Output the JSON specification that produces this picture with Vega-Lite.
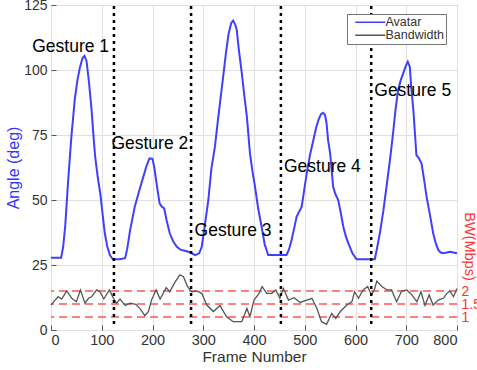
{
  "$schema": "https://vega.github.io/schema/vega-lite/v6.json",
  "width": 406,
  "height": 325,
  "autosize": {"type": "none"},
  "padding": {"left": 51, "top": 5, "right": 20, "bottom": 40},
  "config": {
    "font": "Liberation Sans",
    "view": {"stroke": "#555555", "strokeWidth": 1},
    "axis": {"domain": false, "gridColor": "#e0e0e0", "labelColor": "#333333", "titleColor": "#333333", "labelFontSize": 14, "titleFontWeight": "normal", "tickColor": "#555555"},
    "legend": {"orient": "none", "legendX": 296, "legendY": 9, "strokeColor": "#777777", "fillColor": "white", "padding": 2, "labelFontSize": 12.5, "symbolType": "M-5,0H5", "symbolSize": 36, "symbolStrokeWidth": 1.5, "symbolOffset": 15, "labelOffset": 9, "rowPadding": -1, "labelColor": "#333333"}
  },
  "datasets": {
    "avatar": [
      {"frame":0,"angle":27.8},{"frame":20,"angle":27.8},{"frame":24,"angle":32},{"frame":28,"angle":40},{"frame":34,"angle":58},{"frame":40,"angle":74},{"frame":47,"angle":89},{"frame":52,"angle":96},{"frame":57,"angle":101},{"frame":62,"angle":104.5},{"frame":66,"angle":105.4},{"frame":70,"angle":103.5},{"frame":75,"angle":95},{"frame":80,"angle":84.6},{"frame":84,"angle":74},{"frame":87,"angle":66.7},{"frame":92,"angle":59},{"frame":97,"angle":52.6},{"frame":102,"angle":44},{"frame":106,"angle":37.2},{"frame":111,"angle":32},{"frame":116,"angle":28.8},{"frame":122,"angle":27.2},{"frame":135,"angle":27.2},{"frame":146,"angle":27.6},{"frame":150,"angle":31},{"frame":156,"angle":38.5},{"frame":165,"angle":47.4},{"frame":173,"angle":53},{"frame":182,"angle":59},{"frame":188,"angle":63},{"frame":194,"angle":66},{"frame":200,"angle":65.8},{"frame":204,"angle":62},{"frame":208,"angle":56.4},{"frame":214,"angle":48.7},{"frame":218,"angle":47.5},{"frame":223,"angle":46.8},{"frame":228,"angle":42},{"frame":234,"angle":37.2},{"frame":241,"angle":34},{"frame":248,"angle":32},{"frame":256,"angle":30.8},{"frame":264,"angle":30.5},{"frame":274,"angle":29.9},{"frame":284,"angle":28.8},{"frame":292,"angle":29.5},{"frame":297,"angle":32},{"frame":303,"angle":40},{"frame":310,"angle":50},{"frame":316,"angle":62},{"frame":323,"angle":70.5},{"frame":329,"angle":80.8},{"frame":334,"angle":89},{"frame":340,"angle":98.7},{"frame":345,"angle":107},{"frame":350,"angle":114},{"frame":355,"angle":118},{"frame":359,"angle":119},{"frame":363,"angle":117.5},{"frame":366,"angle":115.4},{"frame":370,"angle":108},{"frame":376,"angle":98.7},{"frame":381,"angle":90},{"frame":386,"angle":82},{"frame":392,"angle":68},{"frame":397,"angle":61},{"frame":402,"angle":55.1},{"frame":408,"angle":47},{"frame":415,"angle":39.7},{"frame":421,"angle":33},{"frame":428,"angle":28.8},{"frame":441,"angle":28.8},{"frame":452,"angle":28.8},{"frame":464,"angle":28.8},{"frame":469,"angle":31},{"frame":474,"angle":34.6},{"frame":479,"angle":39},{"frame":484,"angle":43.6},{"frame":494,"angle":47.4},{"frame":499,"angle":54},{"frame":504,"angle":60.3},{"frame":510,"angle":67},{"frame":517,"angle":73.1},{"frame":522,"angle":77.5},{"frame":527,"angle":80.8},{"frame":532,"angle":83},{"frame":536,"angle":83.5},{"frame":540,"angle":82.7},{"frame":543,"angle":79.5},{"frame":546,"angle":73},{"frame":550,"angle":68},{"frame":556,"angle":55},{"frame":561,"angle":52},{"frame":566,"angle":50},{"frame":571,"angle":45},{"frame":576,"angle":39.7},{"frame":581,"angle":36},{"frame":586,"angle":33.3},{"frame":594,"angle":29.5},{"frame":602,"angle":27.2},{"frame":618,"angle":27.2},{"frame":630,"angle":27.2},{"frame":638,"angle":27.2},{"frame":643,"angle":32},{"frame":648,"angle":37.2},{"frame":655,"angle":46},{"frame":661,"angle":55},{"frame":668,"angle":65.5},{"frame":674,"angle":75.6},{"frame":679,"angle":85},{"frame":684,"angle":92.3},{"frame":689,"angle":96},{"frame":694,"angle":98.7},{"frame":699,"angle":101.5},{"frame":703,"angle":103.2},{"frame":707,"angle":101.3},{"frame":710,"angle":93},{"frame":714,"angle":84.6},{"frame":717,"angle":76},{"frame":720,"angle":67.3},{"frame":725,"angle":66},{"frame":730,"angle":64.1},{"frame":735,"angle":58},{"frame":740,"angle":51.3},{"frame":747,"angle":44},{"frame":753,"angle":37.2},{"frame":758,"angle":33.5},{"frame":763,"angle":30.8},{"frame":768,"angle":29.8},{"frame":773,"angle":29.5},{"frame":780,"angle":29.8},{"frame":786,"angle":30.1},{"frame":793,"angle":29.8},{"frame":800,"angle":29.5}
    ],
    "bw": [
      {"frame":0,"mbps":1.46},{"frame":8,"mbps":1.65},{"frame":14,"mbps":1.78},{"frame":21,"mbps":1.69},{"frame":31,"mbps":2.0},{"frame":41,"mbps":1.72},{"frame":50,"mbps":1.59},{"frame":58,"mbps":2.04},{"frame":67,"mbps":1.53},{"frame":74,"mbps":1.72},{"frame":80,"mbps":1.78},{"frame":90,"mbps":2.04},{"frame":97,"mbps":1.95},{"frame":104,"mbps":1.69},{"frame":115,"mbps":2.04},{"frame":123,"mbps":1.72},{"frame":129,"mbps":1.53},{"frame":136,"mbps":1.69},{"frame":146,"mbps":1.44},{"frame":156,"mbps":1.53},{"frame":167,"mbps":1.49},{"frame":175,"mbps":1.33},{"frame":185,"mbps":1.05},{"frame":192,"mbps":1.21},{"frame":198,"mbps":1.65},{"frame":207,"mbps":2.04},{"frame":215,"mbps":1.69},{"frame":227,"mbps":2.13},{"frame":234,"mbps":1.97},{"frame":244,"mbps":2.33},{"frame":254,"mbps":2.62},{"frame":261,"mbps":2.55},{"frame":269,"mbps":2.17},{"frame":277,"mbps":1.97},{"frame":287,"mbps":2.0},{"frame":297,"mbps":1.91},{"frame":307,"mbps":1.46},{"frame":320,"mbps":1.21},{"frame":333,"mbps":1.44},{"frame":346,"mbps":1.01},{"frame":359,"mbps":0.82},{"frame":376,"mbps":0.82},{"frame":386,"mbps":1.33},{"frame":392,"mbps":1.01},{"frame":400,"mbps":1.65},{"frame":410,"mbps":1.91},{"frame":416,"mbps":2.17},{"frame":425,"mbps":1.91},{"frame":435,"mbps":1.91},{"frame":443,"mbps":2.04},{"frame":451,"mbps":1.72},{"frame":458,"mbps":2.1},{"frame":468,"mbps":1.65},{"frame":479,"mbps":1.74},{"frame":491,"mbps":1.56},{"frame":504,"mbps":1.65},{"frame":514,"mbps":1.72},{"frame":524,"mbps":1.33},{"frame":533,"mbps":0.82},{"frame":543,"mbps":0.72},{"frame":553,"mbps":1.14},{"frame":561,"mbps":0.95},{"frame":570,"mbps":1.21},{"frame":583,"mbps":1.46},{"frame":593,"mbps":1.59},{"frame":598,"mbps":1.97},{"frame":606,"mbps":1.72},{"frame":615,"mbps":2.04},{"frame":624,"mbps":2.17},{"frame":631,"mbps":1.85},{"frame":637,"mbps":2.04},{"frame":642,"mbps":2.38},{"frame":652,"mbps":2.17},{"frame":662,"mbps":2.04},{"frame":671,"mbps":2.04},{"frame":681,"mbps":1.59},{"frame":691,"mbps":2.0},{"frame":701,"mbps":2.04},{"frame":711,"mbps":1.85},{"frame":721,"mbps":1.59},{"frame":729,"mbps":1.97},{"frame":737,"mbps":1.44},{"frame":745,"mbps":1.85},{"frame":753,"mbps":1.46},{"frame":763,"mbps":1.65},{"frame":773,"mbps":1.72},{"frame":780,"mbps":1.91},{"frame":786,"mbps":2.0},{"frame":793,"mbps":1.78},{"frame":800,"mbps":2.1}
    ],
    "thresholds": [{"mbps":1},{"mbps":1.5},{"mbps":2}],
    "dividers": [{"frame":124},{"frame":276},{"frame":453},{"frame":631}],
    "gestures": [
      {"label":"Gesture 1","frame":-37,"angle":109},
      {"label":"Gesture 2","frame":119,"angle":71.7},
      {"label":"Gesture 3","frame":283,"angle":38},
      {"label":"Gesture 4","frame":459,"angle":62.8},
      {"label":"Gesture 5","frame":637,"angle":92}
    ]
  },
  "layer": [
    {
      "layer": [
        {
          "data": {"name": "thresholds"},
          "mark": {"type": "rule", "color": "#ff5555", "strokeWidth": 1.5, "strokeDash": [8, 5]},
          "encoding": {
            "y": {"field": "mbps", "type": "quantitative", "scale": {"domain": [0.5, 13], "nice": false, "zero": false},
              "axis": {"orient": "right", "values": [1, 1.5, 2], "format": "~g", "grid": false, "ticks": false, "labelOverlap": false, "labelPadding": 4, "labelColor": "#ff3333", "labelFontSize": 14,
                "title": "BW(Mbps)", "titleColor": "#ff3333", "titleFontSize": 14.5, "titleAngle": 90, "titleX": 11, "titleY": 241, "titleAlign": "center", "titleBaseline": "middle"}}
          }
        },
        {
          "data": {"name": "bw"},
          "mark": {"type": "line", "strokeWidth": 1.3},
          "encoding": {
            "x": {"field": "frame", "type": "quantitative"},
            "y": {"field": "mbps", "type": "quantitative"},
            "color": {"datum": "Bandwidth"}
          }
        }
      ]
    },
    {
      "layer": [
        {
          "data": {"name": "avatar"},
          "mark": {"type": "line", "strokeWidth": 2},
          "encoding": {
            "x": {"field": "frame", "type": "quantitative", "scale": {"domain": [0, 800], "nice": false},
              "axis": {"values": [0,100,200,300,400,500,600,700,800], "grid": true, "tickSize": -5, "labelPadding": 8, "labelFontSize": 14.5, "title": "Frame Number", "titleFontSize": 15.5, "titleBaseline": "middle", "titleY": 26}},
            "y": {"field": "angle", "type": "quantitative", "scale": {"domain": [0, 125], "nice": false},
              "axis": {"orient": "left", "values": [0,25,50,75,100,125], "grid": true, "tickSize": -5, "labelPadding": 9, "labelFontSize": 14,
                "title": "Angle (deg)", "titleColor": "#3333ff", "titleFontSize": 16, "titleX": -38, "titleY": 162.5, "titleBaseline": "middle", "titleAlign": "center"}},
            "color": {"datum": "Avatar", "type": "nominal", "scale": {"domain": ["Avatar", "Bandwidth"], "range": ["#3f3fff", "#555555"]}, "legend": {"title": null}}
          }
        },
        {
          "data": {"name": "dividers"},
          "mark": {"type": "rule", "color": "black", "strokeWidth": 2.5, "strokeDash": [3, 4]},
          "encoding": {
            "x": {"field": "frame", "type": "quantitative"},
            "y": {"datum": 2.3},
            "y2": {"datum": 126}
          }
        },
        {
          "data": {"name": "gestures"},
          "mark": {"type": "text", "align": "left", "baseline": "middle", "fontSize": 17.5, "color": "black"},
          "encoding": {
            "x": {"field": "frame", "type": "quantitative"},
            "y": {"field": "angle", "type": "quantitative"},
            "text": {"field": "label"}
          }
        }
      ]
    }
  ],
  "resolve": {"scale": {"y": "independent"}, "axis": {"y": "independent"}}
}
